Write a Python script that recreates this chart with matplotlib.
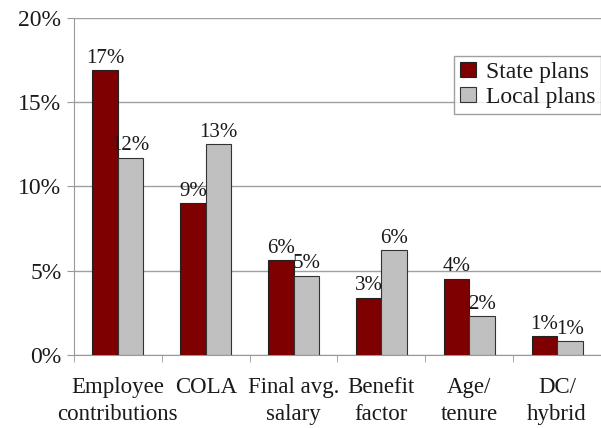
import numpy as np
import matplotlib
matplotlib.use('Agg')
import matplotlib.pyplot as plt

categories = ['Employee\ncontributions', 'COLA', 'Final avg.\nsalary', 'Benefit\nfactor', 'Age/\ntenure', 'DC/\nhybrid']
state = [16.9, 9.0, 5.6, 3.4, 4.5, 1.1]
local = [11.7, 12.5, 4.7, 6.2, 2.3, 0.8]
state_lbl = ['17%', '9%', '6%', '3%', '4%', '1%']
local_lbl = ['12%', '13%', '5%', '6%', '2%', '1%']

plt.rcParams['font.family'] = ['Liberation Serif', 'DejaVu Serif']
plt.rcParams['text.color'] = '#1a1a1a'

fig = plt.figure(figsize=(6.01, 4.28), dpi=100)
ax = fig.add_axes([0.123, 0.171, 0.877, 0.787])

x = np.arange(len(categories))
w = 0.29
ax.bar(x - w/2, state, w, color='#7f0000', edgecolor='#222222', linewidth=0.8, label='State plans', zorder=3)
ax.bar(x + w/2, local, w, color='#c0c0c0', edgecolor='#333333', linewidth=0.8, label='Local plans', zorder=3)

# value labels over each bar
for i in range(len(categories)):
    ax.text(x[i] - w/2, state[i] + 0.15, state_lbl[i], ha='center', va='bottom', fontsize=15)
    ax.text(x[i] + w/2, local[i] + 0.15, local_lbl[i], ha='center', va='bottom', fontsize=15)

ax.set_xlim(-0.5, len(categories) - 0.5)
ax.set_ylim(0, 20)
ax.set_yticks([0, 5, 10, 15, 20])
ax.set_yticklabels(['0%', '5%', '10%', '15%', '20%'], fontsize=17, color='#1a1a1a')
ax.set_xticks(x)
ax.set_xticklabels(categories, fontsize=16.5, linespacing=1.35, color='#1a1a1a')
ax.set_xticks(np.arange(len(categories) + 1) - 0.5, minor=True)
ax.tick_params(axis='x', which='major', length=0, pad=16)
ax.tick_params(axis='x', which='minor', length=5, color='#999999')
ax.tick_params(axis='y', length=5, color='#999999', pad=4)
ax.grid(axis='y', color='#a0a0a0', linewidth=1, zorder=0)
ax.spines['top'].set_visible(False)
ax.spines['right'].set_visible(False)
ax.spines['left'].set_color('#999999')
ax.spines['bottom'].set_color('#999999')

leg = ax.legend(loc='upper right', bbox_to_anchor=(1.0, 0.886), fontsize=17, frameon=True, fancybox=False,
                borderaxespad=0, handlelength=0.7, handleheight=0.6, handletextpad=0.4,
                borderpad=0.25, labelspacing=0.15)
leg.get_frame().set_edgecolor('#888888')
leg.get_frame().set_linewidth(1)

fig.savefig('out.png', dpi=100)
